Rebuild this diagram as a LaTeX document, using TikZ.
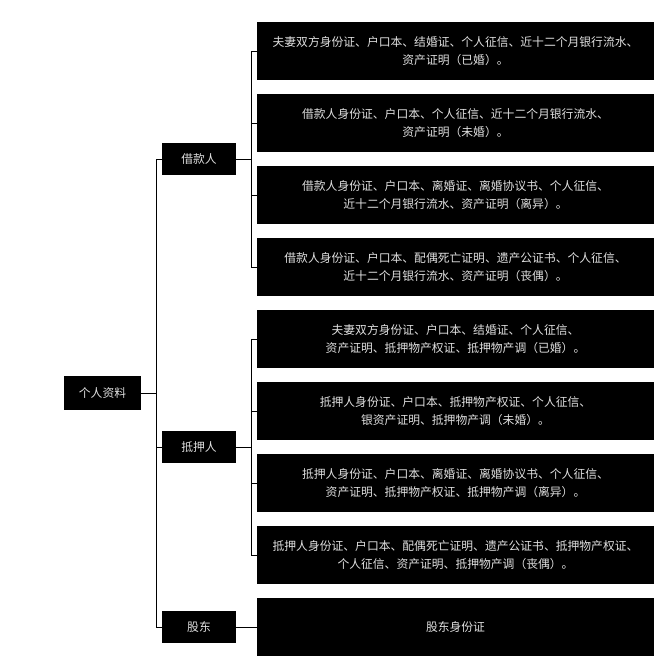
\documentclass[tikz,border=0pt]{standalone}
\usepackage{fontspec}
\newfontfamily\cjk{Noto Sans CJK SC}
\usetikzlibrary{positioning,calc}

\begin{document}
\begin{tikzpicture}[x=1pt,y=-1pt,node distance=14pt,
		thick,line width=0.8pt,
		box/.style={rectangle,fill=black,text=white!88!black,inner sep=0pt,outer sep=0pt,
			font=\cjk\fontsize{11.8pt}{18.5pt}\selectfont,align=center},
		leaf node/.style={box,minimum width=397pt,minimum height=58pt},
		mid node/.style={box,minimum width=74pt,minimum height=32pt},
		root node/.style={box,minimum width=77pt,minimum height=34pt}]
		\useasboundingbox[fill=white] (0,0) rectangle (668,668);
		
		% leaves
		\node[leaf node] (l1) at (455.5,51) {夫妻双方身份证、户口本、结婚证、个人征信、近十二个月银行流水、\\资产证明（已婚）。};
		\node[leaf node] (l2) [below=of l1] {借款人身份证、户口本、个人征信、近十二个月银行流水、\\资产证明（未婚）。};
		\node[leaf node] (l3) [below=of l2] {借款人身份证、户口本、离婚证、离婚协议书、个人征信、\\近十二个月银行流水、资产证明（离异）。};
		\node[leaf node] (l4) [below=of l3] {借款人身份证、户口本、配偶死亡证明、遗产公证书、个人征信、\\近十二个月银行流水、资产证明（丧偶）。};
		\node[leaf node] (l5) [below=of l4] {夫妻双方身份证、户口本、结婚证、个人征信、\\资产证明、抵押物产权证、抵押物产调（已婚）。};
		\node[leaf node] (l6) [below=of l5] {抵押人身份证、户口本、抵押物产权证、个人征信、\\银资产证明、抵押物产调（未婚）。};
		\node[leaf node] (l7) [below=of l6] {抵押人身份证、户口本、离婚证、离婚协议书、个人征信、\\资产证明、抵押物产权证、抵押物产调（离异）。};
		\node[leaf node] (l8) [below=of l7] {抵押人身份证、户口本、配偶死亡证明、遗产公证书、抵押物产权证、\\个人征信、资产证明、抵押物产调（丧偶）。};
		\node[leaf node] (l9) [below=of l8] {股东身份证};
		
		% middle level
		\coordinate (c1) at ($(l1.west)!.5!(l4.west)$);
		\coordinate (c2) at ($(l5.west)!.5!(l8.west)$);
		\node[mid node] (jk) [left=21pt of c1] {借款人};
		\node[mid node] (dy) [left=21pt of c2] {抵押人};
		\node[mid node] (gd) [left=21pt of l9.west] {股东};
		
		% root
		\coordinate (c0) at ($(jk.west)!.5!(gd.west)$);
		\node[root node] (gr) [left=21pt of c0] {个人资料};
		
		\draw (gr.east) -- ++(15,0) coordinate (b0);
		\draw (b0) |- (jk.west) (b0) |- (dy.west) (b0) |- (gd.west);
		
		\draw (jk.east) -- ++(15,0) coordinate (b1);
		\draw (b1) |- (l1.west) (b1) |- (l2.west) (b1) |- (l3.west) (b1) |- (l4.west);
		
		\draw (dy.east) -- ++(15,0) coordinate (b2);
		\draw (b2) |- (l5.west) (b2) |- (l6.west) (b2) |- (l7.west) (b2) |- (l8.west);
		
		\draw (gd.east) -- (l9.west);
\end{tikzpicture}
\end{document}
